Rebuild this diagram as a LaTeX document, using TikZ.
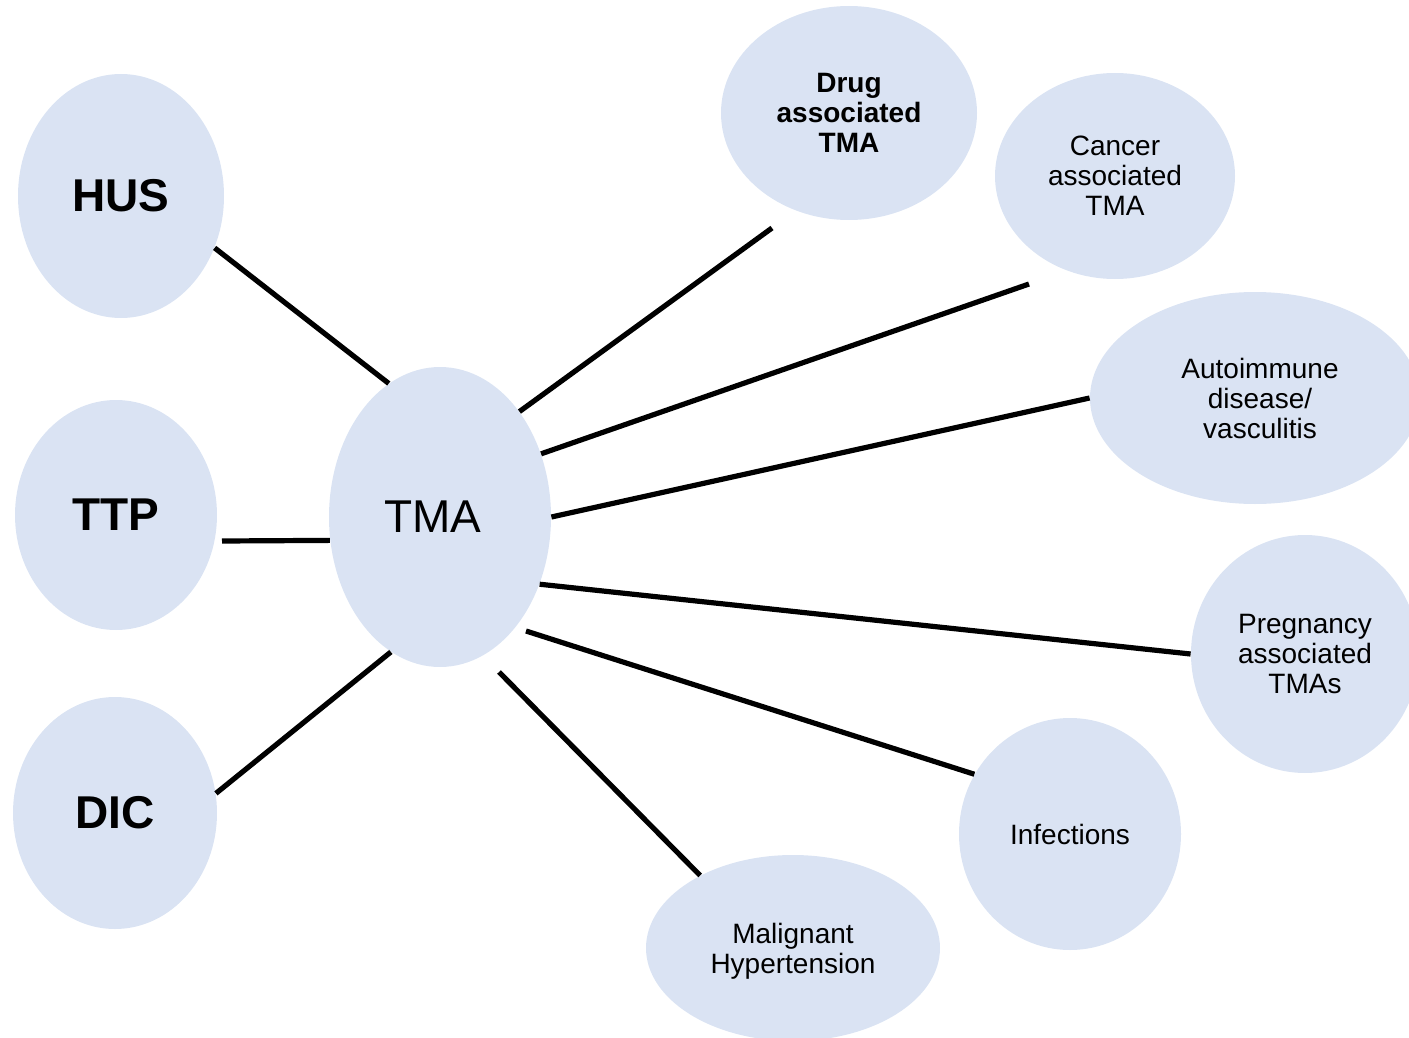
\documentclass[tikz,border=0pt]{standalone}
\usepackage{fontspec}
\setmainfont{Liberation Sans}
\usetikzlibrary{shapes.geometric}
\definecolor{ovalblue}{HTML}{DAE3F3}

\begin{document}
\begin{tikzpicture}[x=0.5pt, y=-0.5pt,
        oval/.style={ellipse, fill=ovalblue, inner sep=0pt, align=center,
            font=\fontsize{14}{15}\selectfont},
        big/.style={font=\fontsize{23}{26}\selectfont\bfseries},
        link/.style={line width=2.6pt}]
    \useasboundingbox (0,0) rectangle (1409,1038);
    \clip (0,0) rectangle (1409,1038);
    \node[oval, big, minimum width=103pt, minimum height=122pt] (hus) at (121,196) {HUS};
    \node[oval, big, minimum width=101pt, minimum height=115pt] (ttp) at (116,515) {TTP};
    \node[oval, big, minimum width=102pt, minimum height=116pt] (dic) at (115,813) {DIC};
    \node[oval, font=\fontsize{23}{26}\selectfont, minimum width=111pt, minimum height=150pt] (tma) at (440,517) {TMA\hspace*{7pt}};
    \node[oval, font=\fontsize{14}{15}\selectfont\bfseries, minimum width=128pt, minimum height=107pt] (drug) at (849,113) {Drug\\associated\\TMA};
    \node[oval, minimum width=120pt, minimum height=103pt] (cancer) at (1115,176) {Cancer\\associated\\TMA};
    \node[oval, minimum width=165pt, minimum height=106pt] (auto) at (1255,398) {\hspace*{5pt}Autoimmune\\\hspace*{5pt}disease/\\\hspace*{5pt}vasculitis};
    \node[oval, minimum width=114pt, minimum height=119pt] (preg) at (1305,654) {Pregnancy\\associated\\TMAs};
    \node[oval, minimum width=111pt, minimum height=116pt] (inf) at (1070,834) {Infections};
    \node[oval, align=none, minimum width=147pt, minimum height=93pt] (malig) at (793,948)
        {\raisebox{-2.3pt}[\height][\depth]{\begin{tabular}{@{}c@{}}Malignant\\Hypertension\end{tabular}}};
    \coordinate (ttp-end) at (222,541);
    \coordinate (drug-end) at (772,228);
    \coordinate (cancer-end) at (1029,284);
    \coordinate (inf-start) at (526,631);
    \coordinate (malig-start) at (499,672);
    \foreach \from/\to in {tma.111.4/hus.-29.4, tma.192/ttp-end, tma.-110.7/dic.11.2,
            tma.53.8/drug-end, tma.32.8/cancer-end, tma.east/auto.west,
            tma.-34.5/preg.west, inf-start/inf.148.7, malig-start/malig.142.6}
        \draw[link] (\from) -- (\to);
\end{tikzpicture}
\end{document}
